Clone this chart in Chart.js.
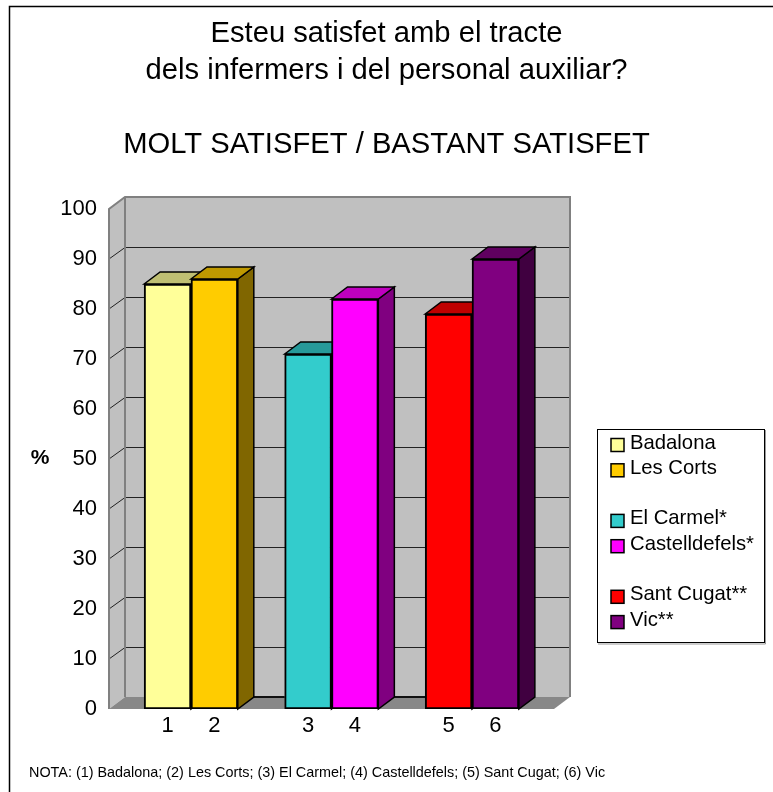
<!DOCTYPE html>
<html><head><meta charset="utf-8">
<script src="https://cdn.jsdelivr.net/npm/chart.js@4"></script>
<style>html,body{margin:0;padding:0;background:#fff}#wrap{position:absolute;left:0;top:0;width:773px;height:792px}</style>
</head><body><div id="wrap"><canvas id="c" width="773" height="792"></canvas></div>
<script>
const titleLines = ['Esteu satisfet amb el tracte','dels infermers i del personal auxiliar?','','MOLT SATISFET / BASTANT SATISFET'];
const categories = ['Badalona','Les Corts','El Carmel*','Castelldefels*','Sant Cugat**','Vic**'];
const tickLabels = ['1','2','3','4','5','6'];
const slots = [1,2,4,5,7,8];
const values = [85,86,71,82,79,90];
const frontColors = ['#FFFF99','#FFCC00','#33CCCC','#FF00FF','#FF0000','#800080'];
const topColors = ['#BFBF73','#BF9900','#269999','#BF00BF','#BF0000','#600060'];
const sideColors = ['#808050','#806600','#1A6666','#800080','#800000','#400040'];
const legendRows = [0,1,3,4,6,7];
const yAxisName = '%';
const note = 'NOTA: (1) Badalona; (2) Les Corts; (3) El Carmel; (4) Castelldefels; (5) Sant Cugat; (6) Vic';
const FONT = '"Liberation Sans", Arial, sans-serif';
const DX = 16, DY = 12;

function poly(ctx, pts, fill, stroke, lw){
  ctx.beginPath(); pts.forEach((p,i)=> i?ctx.lineTo(p[0],p[1]):ctx.moveTo(p[0],p[1])); ctx.closePath();
  if(fill){ctx.fillStyle=fill;ctx.fill();}
  if(stroke){ctx.strokeStyle=stroke;ctx.lineWidth=lw||1;ctx.stroke();}
}
const threeD = {
  id:'threeD',
  afterLayout(chart){ chart.titleBlock.left=0; chart.titleBlock.right=chart.width; },
  beforeDatasetsDraw(chart){
    const {ctx,scales:{x,y}} = chart;
    const L=x.left,R=x.right,T=y.getPixelForValue(100),B=y.getPixelForValue(0);
    ctx.save();
    poly(ctx,[[L+DX,T-DY],[R+DX,T-DY],[R+DX,B-DY],[L+DX,B-DY]],'#C0C0C0');
    poly(ctx,[[L,T],[L+DX,T-DY],[L+DX,B-DY],[L,B]],'#C0C0C0');
    y.ticks.forEach(t=>{
      if(t.value===0||t.value===100) return;
      const py=y.getPixelForValue(t.value);
      const back=Math.round(py-DY)+0.5;
      ctx.beginPath();ctx.moveTo(L,py);ctx.lineTo(L+DX,back);ctx.lineTo(R+DX,back);
      ctx.strokeStyle='#222';ctx.lineWidth=1;ctx.stroke();
    });
    ctx.beginPath();ctx.moveTo(L,B);ctx.lineTo(L,T);ctx.lineTo(L+DX,T-DY);ctx.lineTo(R+DX,T-DY);ctx.lineTo(R+DX,B-DY);
    ctx.moveTo(L+DX,T-DY);ctx.lineTo(L+DX,B-DY);
    ctx.strokeStyle='#808080';ctx.lineWidth=2;ctx.stroke();
    poly(ctx,[[L,B],[L+DX,B-DY],[R+DX,B-DY],[R,B]],'#888888');
    const meta=chart.getDatasetMeta(0);
    [[1,2],[3,4]].forEach(([a,b])=>{
      const e=meta.data[a],f=meta.data[b];
      ctx.beginPath();ctx.moveTo(e.x+e.width/2+DX,B-DY);ctx.lineTo(f.x-f.width/2,B-DY);
      ctx.strokeStyle='#111';ctx.lineWidth=2;ctx.stroke();
    });
    meta.data.forEach((e,i)=>{
      const x0=e.x-e.width/2,x1=e.x+e.width/2,yv=e.y,y0=e.base;
      poly(ctx,[[x1,yv],[x1+DX,yv-DY],[x1+DX,y0-DY],[x1,y0]],sideColors[i],'#000',1.5);
      poly(ctx,[[x0,yv],[x0+DX,yv-DY],[x1+DX,yv-DY],[x1,yv]],topColors[i],'#000',1.5);
    });
    ctx.restore();
  },
  afterDraw(chart){
    const {ctx,width,height}=chart;
    ctx.save();
    ctx.strokeStyle='#000';ctx.lineWidth=1.5;
    ctx.beginPath();ctx.moveTo(9.5,height);ctx.lineTo(9.5,6.5);ctx.lineTo(width,6.5);ctx.stroke();
    ctx.fillStyle='#000';ctx.textBaseline='middle';ctx.textAlign='left';
    ctx.font='14.4px '+FONT;ctx.fillText(note,29,773);
    ctx.font='bold 21px '+FONT;ctx.textAlign='center';ctx.fillText(yAxisName,40,458);
    ctx.lineWidth=1;ctx.strokeRect(597.5,429.5,167,213);
    ctx.strokeStyle='#999';ctx.beginPath();ctx.moveTo(765.5,430);ctx.lineTo(765.5,644);ctx.lineTo(598,644);ctx.stroke();
    ctx.textAlign='left';ctx.font='20.3px '+FONT;
    categories.forEach((n,i)=>{
      const cy=443+legendRows[i]*25.3;
      ctx.fillStyle='#000';ctx.fillText(n,630,cy);
      ctx.fillStyle=frontColors[i];ctx.fillRect(611,cy-4.5,13,13);
      ctx.strokeStyle='#000';ctx.lineWidth=1.5;ctx.strokeRect(611,cy-4.5,13,13);
    });
    ctx.restore();
  }
};
new Chart(document.getElementById('c'),{
  type:'bar',
  data:{datasets:[{
    label:'%',
    data:slots.map((s,i)=>({x:s,y:values[i]})),
    backgroundColor:frontColors,borderColor:'#000',borderWidth:2,
    barPercentage:1,categoryPercentage:1,borderSkipped:false
  }]},
  plugins:[threeD],
  options:{
    responsive:false,animation:false,
    layout:{padding:{left:0,right:219,top:0,bottom:0}},
    plugins:{
      legend:{display:false},tooltip:{enabled:false},
      title:{display:true,text:titleLines,color:'#000',font:{family:FONT,size:29.2,weight:'normal',lineHeight:37/29.2},padding:{top:15,bottom:46}}
    },
    scales:{
      x:{type:'linear',min:-0.25,max:9.25,offset:false,
        afterBuildTicks(s){s.ticks=slots.map(v=>({value:v}));},
        afterFit(s){s.height=83;},
        grid:{display:false,drawTicks:false},border:{display:false},
        ticks:{autoSkip:false,maxRotation:0,padding:4,color:'#000',font:{family:FONT,size:22},
          callback(v){const i=slots.indexOf(v);return i<0?'':tickLabels[i];}}
      },
      y:{min:0,max:100,
        afterFit(s){s.width=109;},
        grid:{display:false,drawTicks:true,tickLength:8,tickColor:'#000',drawOnChartArea:false},
        border:{display:false},
        ticks:{stepSize:10,padding:4,color:'#000',font:{family:FONT,size:22}}
      }
    }
  }
});
</script></body></html>
